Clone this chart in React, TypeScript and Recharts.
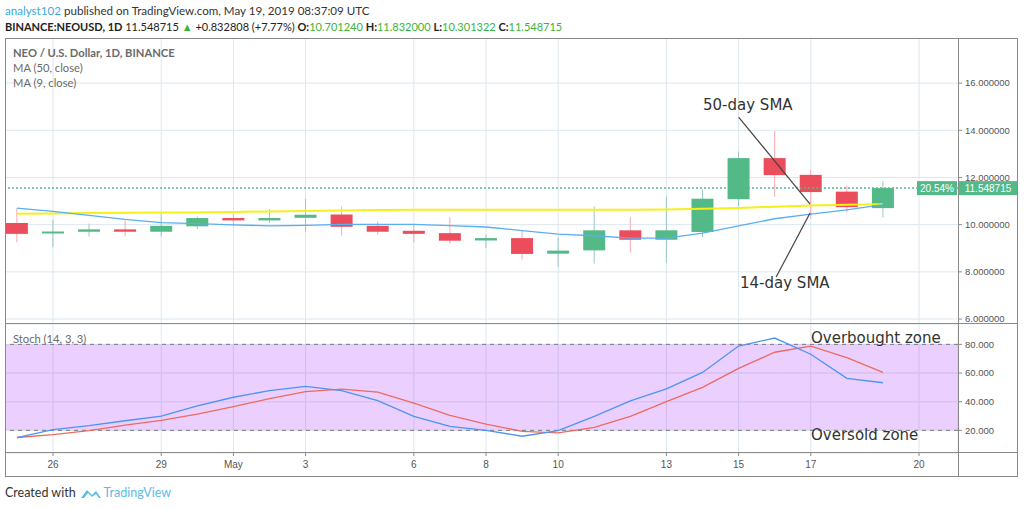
import {
  ComposedChart, Bar, Line, XAxis, YAxis, CartesianGrid,
  ReferenceLine, ReferenceArea
} from "recharts";

// day index 0 = Apr 25, 24 = May 19
const days = Array.from({ length: 25 }, (_, i) => i);
const tickIdx = [1, 4, 6, 8, 11, 13, 15, 18, 20, 22, 25];
const tickLabels = ["26", "29", "May", "3", "6", "8", "10", "13", "15", "17", "20"];

const opens = [10.07, 9.63, 9.7, 9.8, 9.7, 9.93, 10.28, 10.18, 10.29, 10.43, 9.95, 9.74, 9.64, 9.33, 9.43, 8.77, 8.91, 9.76, 9.36, 9.69, 11.08, 12.82, 12.11, 11.4, 10.70124];
const highs = [10.7, 10.21, 10.05, 10.18, 10.46, 10.35, 10.46, 10.66, 11.1, 10.77, 10.14, 10.0, 10.32, 9.57, 9.78, 9.46, 10.77, 10.32, 11.19, 11.51, 13.1, 13.97, 12.32, 11.64, 11.832];
const lows = [9.25, 9.05, 9.5, 9.5, 9.5, 9.81, 9.95, 10.07, 9.69, 9.53, 9.57, 9.25, 9.19, 9.01, 8.52, 8.21, 8.35, 8.82, 8.38, 9.48, 10.77, 11.19, 10.28, 10.52, 10.301322];
const closes = [9.61, 9.71, 9.8, 9.7, 9.95, 10.28, 10.18, 10.28, 10.42, 9.91, 9.7, 9.61, 9.32, 9.43, 8.76, 8.9, 9.76, 9.36, 9.76, 11.1, 12.82, 12.1, 11.38, 10.74, 11.548715];

const ma50 = [10.46, 10.47, 10.49, 10.5, 10.51, 10.52, 10.54, 10.56, 10.58, 10.6, 10.62, 10.63, 10.63, 10.63, 10.63, 10.63, 10.63, 10.63, 10.64, 10.67, 10.71, 10.76, 10.81, 10.84, 10.87];
const ma9 = [10.7, 10.56, 10.39, 10.22, 10.09, 10.04, 9.99, 9.95, 9.97, 10.01, 10.01, 10.01, 9.96, 9.9, 9.75, 9.6, 9.53, 9.43, 9.43, 9.64, 9.95, 10.25, 10.45, 10.63, 10.85];

const stochK = [15.0, 20.5, 23.3, 26.7, 30.0, 37.1, 43.1, 47.7, 50.7, 47.7, 40.8, 29.7, 22.8, 20.0, 15.9, 19.8, 29.7, 40.6, 48.9, 60.4, 78.8, 84.4, 73.1, 56.3, 53.2];
const stochD = [15.0, 17.0, 19.8, 23.7, 26.9, 31.3, 36.6, 42.1, 47.0, 48.7, 46.6, 39.0, 30.4, 24.4, 19.3, 18.2, 22.1, 29.7, 40.1, 50.0, 63.2, 74.5, 78.8, 70.8, 60.4];

const lastPrice = 11.548715;
const priceTicks = [6, 8, 10, 12, 14, 16];
const stochTicks = [20, 40, 60, 80];

const priceData = days.map((i) => ({
  i,
  range: [lows[i], highs[i]],
  open: opens[i], high: highs[i], low: lows[i], close: closes[i],
  ma50: ma50[i], ma9: ma9[i],
}));
const stochData = days.map((i) => ({ i, k: stochK[i], d: stochD[i] }));

const UP = "#53b987";
const DOWN = "#eb4d5c";
const GRID = "#dde7ef";
const FRAME = "#8a8a8a";
const axisFont = "'Liberation Sans', Arial, sans-serif";
const uiFont = "Lato, 'Liberation Sans', sans-serif";
const annFont = "'DejaVu Sans', sans-serif";
const xDomain = [-0.33, 26.08];

const Candle = (props: any) => {
  const { x, y, width, height, payload } = props;
  const top = Math.min(y, y + height);
  const h = Math.abs(height);
  const span = payload.high - payload.low;
  const toY = (p: number) => top + ((payload.high - p) / span) * h;
  const up = payload.close >= payload.open;
  const bTop = toY(Math.max(payload.open, payload.close));
  const bBot = toY(Math.min(payload.open, payload.close));
  const cx = x + width / 2;
  return (
    <g>
      <line x1={cx} x2={cx} y1={top} y2={top + h} stroke={up ? "#9cc6c6" : "#f6a9b1"} strokeWidth={1} />
      <rect x={x} y={bTop} width={width} height={Math.max(bBot - bTop, 2)} fill={up ? UP : DOWN} />
    </g>
  );
};

const PriceTag = (props: any) => {
  const { viewBox } = props;
  const { x, y, width } = viewBox;
  const right = x + width;
  return (
    <g fontFamily={axisFont} fontSize={10} fill="#fff">
      <rect x={right - 41} y={y - 7} width={40} height={14} fill={UP} />
      <text x={right - 21} y={y + 3.5} textAnchor="middle">20.54%</text>
      <rect x={right} y={y - 7} width={60} height={14} fill={UP} />
      <text x={right + 30} y={y + 3.5} textAnchor="middle">{lastPrice.toFixed(6)}</text>
    </g>
  );
};

const Abs = ({ l, t, children, style }: any) => (
  <div style={{ position: "absolute", left: l, top: t, whiteSpace: "nowrap", ...style }}>{children}</div>
);

const g = { color: "#3bb33b" };
const b = { fontWeight: 700 };

export default function App() {
  return (
    <div style={{ position: "absolute", left: 0, top: 0, width: 1024, height: 509, background: "#fff", overflow: "hidden", fontFamily: uiFont }}>
      {/* header */}
      <Abs l={5} t={4} style={{ fontSize: 11.6, color: "#333" }}>
        <span style={{ color: "#3aa8e0" }}>analyst102</span> published on TradingView.com, May 19, 2019 08:37:09 UTC
      </Abs>
      <Abs l={5} t={20} style={{ fontSize: 11, color: "#222" }}>
        <span style={b}>BINANCE:NEOUSD, 1D</span> 11.548715 <span style={g}>▲</span> +0.832808 (+7.77%){" "}
        <span style={b}>O:</span><span style={g}>10.701240</span>{" "}
        <span style={b}>H:</span><span style={g}>11.832000</span>{" "}
        <span style={b}>L:</span><span style={g}>10.301322</span>{" "}
        <span style={b}>C:</span><span style={g}>11.548715</span>
      </Abs>

      {/* price pane */}
      <div style={{ position: "absolute", left: 5, top: 38 }}>
        <ComposedChart width={1013} height={286} data={priceData} margin={{ top: 0, right: 0, bottom: 0, left: 0 }}>
          <CartesianGrid stroke={GRID} verticalValues={tickIdx} horizontalValues={priceTicks} />
          <XAxis dataKey="i" type="number" domain={xDomain} allowDataOverflow ticks={tickIdx} hide />
          <YAxis orientation="right" width={60} domain={[5.79, 17.91]} allowDataOverflow ticks={priceTicks} interval={0}
            tickFormatter={(v) => v.toFixed(6)} axisLine={false} tickSize={4} tickMargin={3}
            tickLine={{ stroke: FRAME }} tick={{ fontSize: 9.5, fill: "#555", fontFamily: axisFont }} />
          <ReferenceLine y={lastPrice} stroke={UP} strokeDasharray="2 2" strokeWidth={1.5} label={<PriceTag />} />
          <Line dataKey="ma50" stroke="#f5f01a" strokeWidth={2} dot={false} isAnimationActive={false} />
          <Line dataKey="ma9" stroke="#5aaef2" strokeWidth={1.3} dot={false} isAnimationActive={false} />
          <Bar dataKey="range" barSize={22} shape={<Candle />} isAnimationActive={false} />
          <ReferenceLine segment={[{ x: 20.0, y: 14.56 }, { x: 21.98, y: 10.87 }]} stroke="#444" strokeWidth={1.2} />
          <ReferenceLine segment={[{ x: 21.04, y: 7.78 }, { x: 21.98, y: 10.49 }]} stroke="#444" strokeWidth={1.2} />
        </ComposedChart>
      </div>

      {/* stochastic pane */}
      <div style={{ position: "absolute", left: 5, top: 324 }}>
        <ComposedChart width={1013} height={152} data={stochData} margin={{ top: 0, right: 0, bottom: 0, left: 0 }}>
          <CartesianGrid stroke={GRID} horizontalPoints={[]} />
          <ReferenceArea y1={20} y2={80} fill="#9915ff" fillOpacity={0.2} stroke="none" />
          <ReferenceLine y={60} stroke="#dcc3f2" />
          <ReferenceLine y={40} stroke="#dcc3f2" />
          <XAxis dataKey="i" type="number" domain={xDomain} allowDataOverflow ticks={tickIdx} interval={0}
            tickFormatter={(v) => tickLabels[tickIdx.indexOf(v)]} height={23} axisLine={false}
            tickSize={3} tickMargin={5} tickLine={{ stroke: FRAME }}
            tick={{ fontSize: 10, fill: "#555", fontFamily: axisFont }} />
          <YAxis orientation="right" width={60} domain={[4.2, 94.2]} allowDataOverflow ticks={stochTicks} interval={0}
            tickFormatter={(v) => v.toFixed(3)} axisLine={false} tickSize={4} tickMargin={3}
            tickLine={{ stroke: FRAME }} tick={{ fontSize: 9.5, fill: "#555", fontFamily: axisFont }} />
          <ReferenceLine y={80} stroke="#7a7a7a" strokeDasharray="4 4" />
          <ReferenceLine y={20} stroke="#7a7a7a" strokeDasharray="4 4" />
          <Line dataKey="d" stroke="#ee6a5e" strokeWidth={1.3} dot={false} isAnimationActive={false} />
          <Line dataKey="k" stroke="#4d94f2" strokeWidth={1.3} dot={false} isAnimationActive={false} />
        </ComposedChart>
      </div>

      {/* frame */}
      <div style={{ position: "absolute", left: 5, top: 38, width: 1011, height: 437, border: `1px solid ${FRAME}` }} />
      <div style={{ position: "absolute", left: 958, top: 38, width: 1, height: 438, background: FRAME }} />
      <div style={{ position: "absolute", left: 5, top: 323, width: 1013, height: 1, background: FRAME }} />
      <div style={{ position: "absolute", left: 5, top: 452, width: 1013, height: 1, background: FRAME }} />

      {/* legends */}
      <Abs l={13} t={46} style={{ fontSize: 11.2, color: "#6a6a6a", fontWeight: 700 }}>NEO / U.S. Dollar, 1D, BINANCE</Abs>
      <Abs l={13} t={61} style={{ fontSize: 11.2, color: "#6a6a6a" }}>MA (50, close)</Abs>
      <Abs l={13} t={76} style={{ fontSize: 11.2, color: "#6a6a6a" }}>MA (9, close)</Abs>
      <Abs l={13} t={332} style={{ fontSize: 11.2, color: "#6a6a6a" }}>Stoch (14, 3, 3)</Abs>

      {/* annotations */}
      <Abs l={703} t={96} style={{ fontSize: 15, color: "#333", fontFamily: annFont }}>50-day SMA</Abs>
      <Abs l={740} t={274} style={{ fontSize: 15, color: "#333", fontFamily: annFont }}>14-day SMA</Abs>
      <Abs l={811} t={329} style={{ fontSize: 15, color: "#333", fontFamily: annFont }}>Overbought zone</Abs>
      <Abs l={811} t={426} style={{ fontSize: 15, color: "#333", fontFamily: annFont }}>Oversold zone</Abs>

      {/* footer */}
      <Abs l={5} t={485} style={{ fontSize: 12.5, color: "#333", display: "flex", alignItems: "center" }}>
        Created with
        <svg width="22" height="14" viewBox="0 0 22 14" style={{ margin: "0 2px 0 4px" }}>
          <path d="M1 12 L7 4 L12 9 L16 5 L21 12 Z" fill="#5bbce6" />
          <path d="M4 12 L8 7 L12 11 L16 8 L19 12" fill="#fff" />
        </svg>
        <span style={{ color: "#5bbce6" }}>TradingView</span>
      </Abs>
    </div>
  );
}
